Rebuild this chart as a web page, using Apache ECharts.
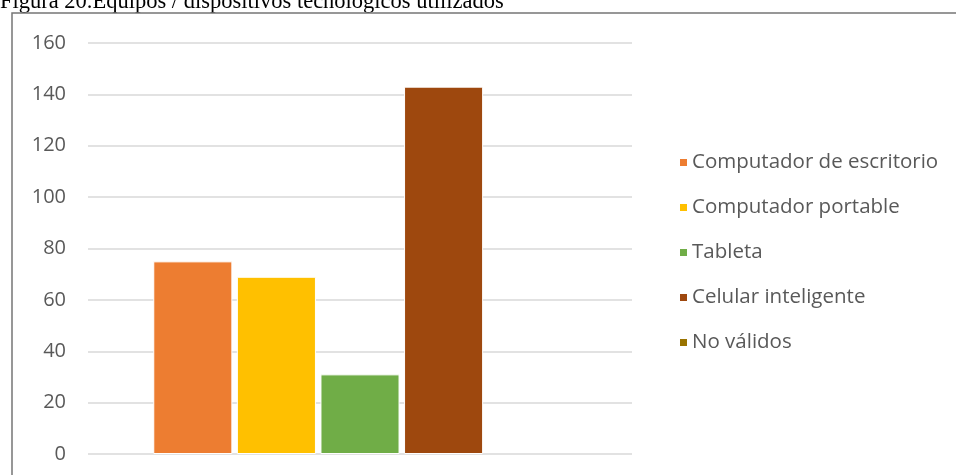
<!DOCTYPE html>
<html>
<head>
<meta charset="utf-8">
<script src="https://cdn.jsdelivr.net/npm/echarts@6/dist/echarts.min.js"></script>
<style>
  html, body { margin: 0; padding: 0; background: #ffffff; }
  #chart { width: 956px; height: 475px; }
</style>
</head>
<body>
<div id="chart"></div>
<script>
// Equipment / devices used – single category, one bar per device type
const categories = ['Equipos'];
const seriesNames = ['Computador de escritorio', 'Computador portable', 'Tableta', 'Celular inteligente', 'No válidos'];
const seriesValues = [75, 69, 31, 143, 0];
const seriesColors = ['#ED7D31', '#FFC000', '#70AD47', '#9E480E', '#997300'];
const yTicks = { min: 0, max: 160, step: 20 };
const titleText = 'Figura 20.Equipos / dispositivos tecnológicos utilizados';

const chart = echarts.init(document.getElementById('chart'), null, { renderer: 'canvas' });

// zero-height bars get no outline so the baseline gridline stays intact
const series = seriesNames.map((name, i) => ({
  name: name,
  type: 'bar',
  data: [seriesValues[i]],
  itemStyle: {
    color: seriesColors[i],
    borderColor: '#ffffff',
    borderWidth: seriesValues[i] > 0 ? 1 : 0
  },
  barGap: '5.7%',
  barCategoryGap: '24%',
  emphasis: { disabled: true }
}));

chart.setOption({
  animation: false,
  backgroundColor: '#ffffff',
  textStyle: { fontFamily: 'Open Sans' },
  grid: { left: 88, right: 324, top: 43, bottom: 21, containLabel: false },
  legend: {
    orient: 'vertical',
    left: 675,
    top: 147,
    icon: 'rect',
    itemWidth: 7,
    itemHeight: 7,
    itemGap: 24,
    itemStyle: { borderWidth: 0 },
    textStyle: { color: '#595959', fontSize: 20.5, lineHeight: 20, fontFamily: 'Open Sans' },
    data: seriesNames
  },
  xAxis: {
    type: 'category',
    data: categories,
    axisLine: { show: false },
    axisTick: { show: false },
    axisLabel: { show: false },
    splitLine: { show: false }
  },
  yAxis: {
    type: 'value',
    min: yTicks.min,
    max: yTicks.max,
    interval: yTicks.step,
    axisLine: { show: false },
    axisTick: { show: false },
    axisLabel: { color: '#595959', fontSize: 20, margin: 22, fontFamily: 'Open Sans' },
    splitLine: { lineStyle: { color: '#d9d9d9', width: 1.5 } }
  },
  series: series,
  graphic: [
    {
      type: 'rect',
      silent: true,
      z: 100,
      shape: { x: 12, y: 13, width: 960, height: 480 },
      style: { fill: 'none', stroke: '#767676', lineWidth: 1.5 }
    },
    {
      type: 'text',
      silent: true,
      z: 99,
      x: 0,
      y: 14,
      style: {
        text: titleText,
        font: '22.5px "Liberation Serif"',
        fill: '#000000',
        verticalAlign: 'bottom',
        align: 'left'
      }
    }
  ]
});
</script>
</body>
</html>
